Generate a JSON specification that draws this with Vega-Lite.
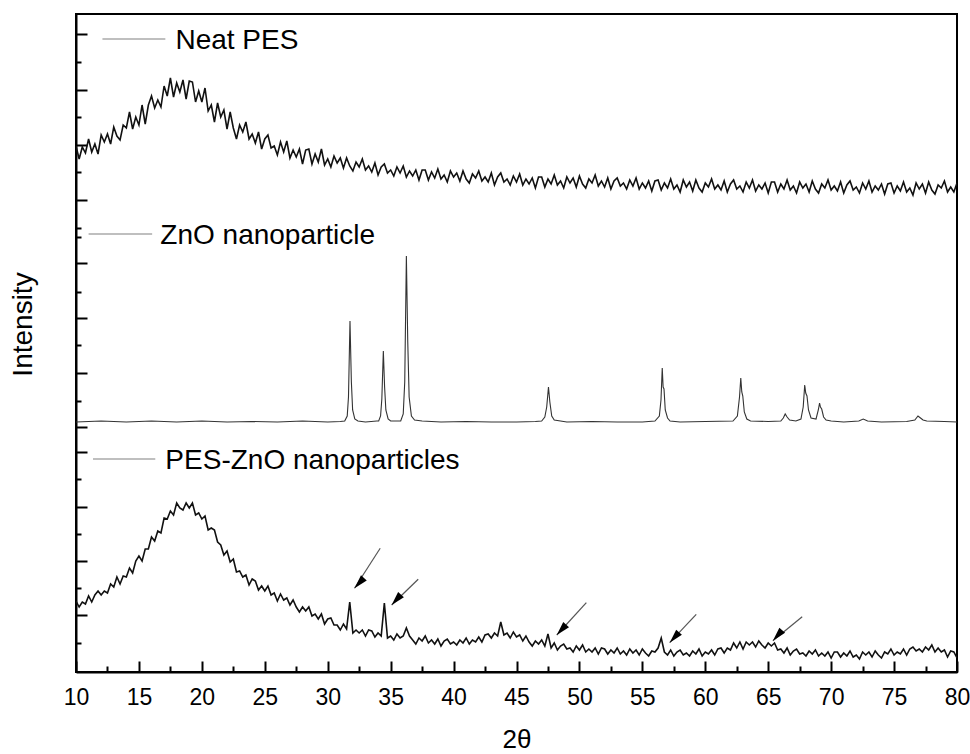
{
"$schema": "https://vega.github.io/schema/vega-lite/v6.json",
"width": 881, "height": 658,
"autosize": {"type": "none"},
"padding": {"left": 76, "top": 14, "right": 13, "bottom": 82},
"background": "white",
"config": {"view": {"stroke": "black", "strokeWidth": 2}, "font": "Liberation Sans", "axis": {"grid": false, "labelFont": "Liberation Sans", "titleFont": "Liberation Sans"}},
"datasets": {
"pes": [
{"t":10,"n":526,"p":71},{"t":10.25,"n":513,"p":65},{"t":10.5,"n":525,"p":70},{"t":10.75,"n":519,"p":68},
{"t":11,"n":533,"p":76},{"t":11.25,"n":520,"p":70},{"t":11.5,"n":528,"p":77},{"t":11.75,"n":518,"p":81},
{"t":12,"n":537,"p":77},{"t":12.25,"n":530,"p":81},{"t":12.5,"n":538,"p":79},{"t":12.75,"n":528,"p":88},
{"t":13,"n":545,"p":85},{"t":13.25,"n":536,"p":95},{"t":13.5,"n":532,"p":88},{"t":13.75,"n":547,"p":96},
{"t":14,"n":544,"p":95},{"t":14.25,"n":560,"p":104},{"t":14.5,"n":543,"p":99},{"t":14.75,"n":555,"p":111},
{"t":15,"n":547,"p":116},{"t":15.25,"n":567,"p":111},{"t":15.5,"n":548,"p":123},{"t":15.75,"n":567,"p":123},
{"t":16,"n":576,"p":135},{"t":16.25,"n":564,"p":131},{"t":16.5,"n":572,"p":141},{"t":16.75,"n":565,"p":139},
{"t":17,"n":586,"p":154},{"t":17.25,"n":576,"p":153},{"t":17.5,"n":594,"p":161},{"t":17.75,"n":575,"p":157},
{"t":18,"n":589,"p":169},{"t":18.25,"n":580,"p":164},{"t":18.5,"n":592,"p":162},{"t":18.75,"n":573,"p":169},
{"t":19,"n":591,"p":164},{"t":19.25,"n":590,"p":169},{"t":19.5,"n":570,"p":157},{"t":19.75,"n":581,"p":159},
{"t":20,"n":570,"p":153},{"t":20.25,"n":584,"p":156},{"t":20.5,"n":561,"p":142},{"t":20.75,"n":567,"p":144},
{"t":21,"n":550,"p":142},{"t":21.25,"n":569,"p":130},{"t":21.5,"n":555,"p":127},{"t":21.75,"n":562,"p":117},
{"t":22,"n":543,"p":121},{"t":22.25,"n":560,"p":110},{"t":22.5,"n":544,"p":113},{"t":22.75,"n":533,"p":100},
{"t":23,"n":547,"p":101},{"t":23.25,"n":540,"p":95},{"t":23.5,"n":550,"p":97},{"t":23.75,"n":533,"p":87},
{"t":24,"n":538,"p":93},{"t":24.25,"n":529,"p":91},{"t":24.5,"n":540,"p":82},{"t":24.75,"n":523,"p":86},
{"t":25,"n":533,"p":81},{"t":25.25,"n":537,"p":86},{"t":25.5,"n":524,"p":77},{"t":25.75,"n":526,"p":79},
{"t":26,"n":517,"p":71},{"t":26.25,"n":530,"p":78},{"t":26.5,"n":520,"p":72},{"t":26.75,"n":531,"p":74},
{"t":27,"n":514,"p":67},{"t":27.25,"n":522,"p":72},{"t":27.5,"n":515,"p":65},{"t":27.75,"n":523,"p":60},
{"t":28,"n":508,"p":65},{"t":28.25,"n":522,"p":61},{"t":28.5,"n":523,"p":65},{"t":28.75,"n":508,"p":56},
{"t":29,"n":518,"p":58},{"t":29.25,"n":510,"p":53},{"t":29.5,"n":523,"p":58},{"t":29.75,"n":507,"p":48},
{"t":30,"n":513,"p":53},{"t":30.25,"n":505,"p":54},{"t":30.5,"n":516,"p":47},{"t":30.75,"n":509,"p":47},
{"t":31,"n":514,"p":42},{"t":31.25,"n":504,"p":48},{"t":31.5,"n":514,"p":43},{"t":31.75,"n":506,"p":70},
{"t":32,"n":501,"p":39},{"t":32.25,"n":510,"p":42},{"t":32.5,"n":505,"p":39},{"t":32.75,"n":513,"p":42},
{"t":33,"n":502,"p":36},{"t":33.25,"n":506,"p":42},{"t":33.5,"n":500,"p":41},{"t":33.75,"n":509,"p":35},
{"t":34,"n":497,"p":39},{"t":34.25,"n":505,"p":36},{"t":34.5,"n":508,"p":69},{"t":34.75,"n":499,"p":34},
{"t":35,"n":502,"p":36},{"t":35.25,"n":496,"p":32},{"t":35.5,"n":505,"p":38},{"t":35.75,"n":499,"p":34},
{"t":36,"n":506,"p":36},{"t":36.25,"n":495,"p":44},{"t":36.5,"n":501,"p":36},{"t":36.75,"n":496,"p":32},
{"t":37,"n":502,"p":28},{"t":37.25,"n":492,"p":34},{"t":37.5,"n":502,"p":31},{"t":37.75,"n":502,"p":36},
{"t":38,"n":492,"p":29},{"t":38.25,"n":500,"p":32},{"t":38.5,"n":494,"p":28},{"t":38.75,"n":503,"p":33},
{"t":39,"n":493,"p":26},{"t":39.25,"n":497,"p":31},{"t":39.5,"n":490,"p":33},{"t":39.75,"n":501,"p":28},
{"t":40,"n":495,"p":30},{"t":40.25,"n":499,"p":27},{"t":40.5,"n":491,"p":32},{"t":40.75,"n":501,"p":29},
{"t":41,"n":493,"p":34},{"t":41.25,"n":489,"p":28},{"t":41.5,"n":498,"p":32},{"t":41.75,"n":494,"p":30},
{"t":42,"n":501,"p":35},{"t":42.25,"n":491,"p":30},{"t":42.5,"n":495,"p":37},{"t":42.75,"n":490,"p":38},
{"t":43,"n":499,"p":34},{"t":43.25,"n":487,"p":39},{"t":43.5,"n":495,"p":36},{"t":43.75,"n":499,"p":50},
{"t":44,"n":490,"p":37},{"t":44.25,"n":493,"p":39},{"t":44.5,"n":487,"p":34},{"t":44.75,"n":496,"p":40},
{"t":45,"n":490,"p":35},{"t":45.25,"n":498,"p":37},{"t":45.5,"n":487,"p":31},{"t":45.75,"n":493,"p":36},
{"t":46,"n":488,"p":30},{"t":46.25,"n":494,"p":26},{"t":46.5,"n":484,"p":31},{"t":46.75,"n":495,"p":28},
{"t":47,"n":495,"p":32},{"t":47.25,"n":485,"p":26},{"t":47.5,"n":493,"p":38},{"t":47.75,"n":488,"p":24},
{"t":48,"n":497,"p":29},{"t":48.25,"n":487,"p":22},{"t":48.5,"n":491,"p":26},{"t":48.75,"n":484,"p":28},
{"t":49,"n":495,"p":23},{"t":49.25,"n":489,"p":24},{"t":49.5,"n":494,"p":20},{"t":49.75,"n":485,"p":26},
{"t":50,"n":496,"p":22},{"t":50.25,"n":488,"p":27},{"t":50.5,"n":484,"p":20},{"t":50.75,"n":493,"p":23},
{"t":51,"n":489,"p":20},{"t":51.25,"n":497,"p":24},{"t":51.5,"n":486,"p":18},{"t":51.75,"n":491,"p":24},
{"t":52,"n":485,"p":23},{"t":52.25,"n":494,"p":18},{"t":52.5,"n":483,"p":22},{"t":52.75,"n":491,"p":19},
{"t":53,"n":494,"p":24},{"t":53.25,"n":486,"p":18},{"t":53.5,"n":489,"p":21},{"t":53.75,"n":483,"p":17},
{"t":54,"n":492,"p":23},{"t":54.25,"n":486,"p":19},{"t":54.5,"n":494,"p":22},{"t":54.75,"n":483,"p":17},
{"t":55,"n":489,"p":23},{"t":55.25,"n":484,"p":19},{"t":55.5,"n":491,"p":16},{"t":55.75,"n":481,"p":21},
{"t":56,"n":491,"p":20},{"t":56.25,"n":492,"p":24},{"t":56.5,"n":482,"p":34},{"t":56.75,"n":489,"p":20},
{"t":57,"n":484,"p":17},{"t":57.25,"n":493,"p":22},{"t":57.5,"n":483,"p":16},{"t":57.75,"n":487,"p":20},
{"t":58,"n":480,"p":22},{"t":58.25,"n":492,"p":17},{"t":58.5,"n":485,"p":19},{"t":58.75,"n":490,"p":16},
{"t":59,"n":481,"p":21},{"t":59.25,"n":492,"p":18},{"t":59.5,"n":484,"p":23},{"t":59.75,"n":480,"p":16},
{"t":60,"n":489,"p":20},{"t":60.25,"n":485,"p":18},{"t":60.5,"n":493,"p":22},{"t":60.75,"n":483,"p":17},
{"t":61,"n":487,"p":23},{"t":61.25,"n":482,"p":24},{"t":61.5,"n":491,"p":19},{"t":61.75,"n":480,"p":24},
{"t":62,"n":488,"p":22},{"t":62.25,"n":492,"p":29},{"t":62.5,"n":483,"p":24},{"t":62.75,"n":486,"p":30},
{"t":63,"n":480,"p":23},{"t":63.25,"n":490,"p":30},{"t":63.5,"n":484,"p":27},{"t":63.75,"n":492,"p":30},
{"t":64,"n":481,"p":25},{"t":64.25,"n":487,"p":31},{"t":64.5,"n":483,"p":27},{"t":64.75,"n":489,"p":24},
{"t":65,"n":479,"p":29},{"t":65.25,"n":490,"p":26},{"t":65.5,"n":490,"p":29},{"t":65.75,"n":480,"p":22},
{"t":66,"n":488,"p":23},{"t":66.25,"n":483,"p":19},{"t":66.5,"n":492,"p":24},{"t":66.75,"n":482,"p":17},
{"t":67,"n":486,"p":21},{"t":67.25,"n":479,"p":23},{"t":67.5,"n":490,"p":18},{"t":67.75,"n":484,"p":19},
{"t":68,"n":488,"p":16},{"t":68.25,"n":480,"p":21},{"t":68.5,"n":491,"p":18},{"t":68.75,"n":483,"p":22},
{"t":69,"n":479,"p":16},{"t":69.25,"n":488,"p":19},{"t":69.5,"n":484,"p":16},{"t":69.75,"n":492,"p":20},
{"t":70,"n":482,"p":14},{"t":70.25,"n":486,"p":20},{"t":70.5,"n":481,"p":20},{"t":70.75,"n":490,"p":15},
{"t":71,"n":479,"p":19},{"t":71.25,"n":487,"p":16},{"t":71.5,"n":491,"p":21},{"t":71.75,"n":482,"p":15},
{"t":72,"n":485,"p":17},{"t":72.25,"n":479,"p":13},{"t":72.5,"n":489,"p":20},{"t":72.75,"n":483,"p":17},
{"t":73,"n":491,"p":20},{"t":73.25,"n":480,"p":15},{"t":73.5,"n":486,"p":21},{"t":73.75,"n":482,"p":17},
{"t":74,"n":488,"p":14},{"t":74.25,"n":478,"p":20},{"t":74.5,"n":488,"p":18},{"t":74.75,"n":489,"p":23},
{"t":75,"n":479,"p":17},{"t":75.25,"n":486,"p":20},{"t":75.5,"n":481,"p":18},{"t":75.75,"n":490,"p":23},
{"t":76,"n":480,"p":17},{"t":76.25,"n":484,"p":23},{"t":76.5,"n":477,"p":25},{"t":76.75,"n":489,"p":21},
{"t":77,"n":483,"p":23},{"t":77.25,"n":488,"p":20},{"t":77.5,"n":479,"p":25},{"t":77.75,"n":490,"p":22},
{"t":78,"n":482,"p":27},{"t":78.25,"n":478,"p":20},{"t":78.5,"n":487,"p":24},{"t":78.75,"n":484,"p":20},
{"t":79,"n":491,"p":22},{"t":79.25,"n":480,"p":15},{"t":79.5,"n":485,"p":21},{"t":79.75,"n":480,"p":20},
{"t":80,"n":489,"p":14}
],
"zno": [
{"t":10,"z":250},{"t":12,"z":251},{"t":14,"z":250},{"t":16,"z":251},{"t":18,"z":250},{"t":20,"z":251},{"t":22,"z":250},{"t":24,"z":250.5},{"t":26,"z":250},{"t":28,"z":251},{"t":30,"z":250},{"t":31,"z":250.5},
{"t":31.35,"z":251},{"t":31.55,"z":256},{"t":31.65,"z":275},{"t":31.77,"z":351},{"t":31.88,"z":290},{"t":31.98,"z":262},{"t":32.15,"z":253},{"t":32.4,"z":251},
{"t":33,"z":250},{"t":33.9,"z":251},
{"t":34.05,"z":251},{"t":34.2,"z":256},{"t":34.3,"z":273},{"t":34.42,"z":321},{"t":34.52,"z":285},{"t":34.62,"z":262},{"t":34.8,"z":253},{"t":35.0,"z":251},
{"t":35.5,"z":251},
{"t":35.8,"z":251},{"t":36.0,"z":258},{"t":36.12,"z":290},{"t":36.25,"z":416},{"t":36.36,"z":330},{"t":36.47,"z":275},{"t":36.65,"z":256},{"t":36.9,"z":252},
{"t":37.5,"z":251},{"t":39,"z":250},{"t":41,"z":250.5},{"t":43,"z":250},{"t":45,"z":250},{"t":46.5,"z":250.5},{"t":47.0,"z":251},
{"t":47.25,"z":255},{"t":47.4,"z":265},{"t":47.54,"z":285},{"t":47.65,"z":270},{"t":47.8,"z":256},{"t":48.0,"z":252},
{"t":49,"z":250},{"t":51,"z":250.5},{"t":53,"z":250},{"t":55,"z":250},{"t":56.0,"z":251},
{"t":56.35,"z":256},{"t":56.48,"z":272},{"t":56.58,"z":304},{"t":56.65,"z":285},{"t":56.72,"z":283},{"t":56.82,"z":262},{"t":57.0,"z":254},{"t":57.2,"z":251},
{"t":58,"z":250},{"t":60,"z":250.5},{"t":62.2,"z":251},
{"t":62.55,"z":256},{"t":62.72,"z":275},{"t":62.82,"z":294},{"t":62.9,"z":280},{"t":62.98,"z":276},{"t":63.1,"z":260},{"t":63.3,"z":253},{"t":63.6,"z":251},
{"t":65,"z":250.5},{"t":66.0,"z":251},
{"t":66.2,"z":254},{"t":66.35,"z":258},{"t":66.5,"z":255},{"t":66.7,"z":252},{"t":67.2,"z":251},
{"t":67.6,"z":253},{"t":67.78,"z":265},{"t":67.9,"z":287},{"t":67.98,"z":279},{"t":68.08,"z":276},{"t":68.2,"z":262},{"t":68.4,"z":254},
{"t":68.8,"z":253},{"t":68.98,"z":262},{"t":69.08,"z":269},{"t":69.15,"z":265},{"t":69.25,"z":263},{"t":69.4,"z":255},{"t":69.6,"z":252},{"t":70,"z":251},
{"t":71,"z":250},{"t":72.2,"z":251},{"t":72.55,"z":253},{"t":72.9,"z":251},{"t":74,"z":250},{"t":76,"z":250.5},{"t":76.65,"z":252},{"t":76.9,"z":256},{"t":77.1,"z":254},{"t":77.3,"z":252},{"t":77.6,"z":251},{"t":79,"z":250.5},{"t":80,"z":250}
],
"leg": [
{"label":"Neat PES","x1":12.1,"x2":17.1,"y":633,"tx":17.9},
{"label":"ZnO nanoparticle","x1":11.0,"x2":16.05,"y":438,"tx":16.7},
{"label":"PES-ZnO nanoparticles","x1":11.35,"x2":16.3,"y":213,"tx":17.1}
],
"arr": [
{"x":34.17,"y":123.7,"hx":32.13,"hy":83.7},
{"x":37.19,"y":92.7,"hx":35.08,"hy":67},
{"x":50.55,"y":69.3,"hx":48.2,"hy":37},
{"x":59.28,"y":57.7,"hx":57.17,"hy":29.3},
{"x":67.7,"y":55.3,"hx":65.37,"hy":31.3}
]
},
"layer": [
{
"data": {"name": "pes"},
"mark": {"type": "line", "color": "#111111", "strokeWidth": 1.6, "clip": true},
"encoding": {
"x": {"field": "t", "type": "quantitative", "scale": {"domain": [10, 80], "nice": false, "zero": false},
"axis": {"values": [10,12.5,15,17.5,20,22.5,25,27.5,30,32.5,35,37.5,40,42.5,45,47.5,50,52.5,55,57.5,60,62.5,65,67.5,70,72.5,75,77.5,80],
"tickCount": 200,
"format": ".0f",
"labelExpr": "datum.value % 5 === 0 ? datum.label : ''",
"tickSize": {"condition": {"test": "indexof([12.5,17.5,22.5,27.5,32.5,37.5,42.5,47.5,52.5,57.5,62.5,67.5,72.5,77.5], datum.value) >= 0", "value": -6}, "value": -11},
"tickColor": "black", "tickWidth": 2, "domainColor": "black", "domainWidth": 2,
"labelFontSize": 23, "labelColor": "black", "labelPadding": 25, "labelFlush": false, "labelOverlap": false,
"title": "2θ", "titleFontSize": 26, "titleFontWeight": "normal", "titleColor": "black", "titlePadding": 12}},
"y": {"field": "n", "type": "quantitative", "scale": {"domain": [0, 658], "nice": false, "zero": false},
"axis": {"values": [29,57,84,111,138,165,193,220,245,271,299,327,354,380,409,435,444,472,500,527,555,582,610,638],
"tickCount": 200,
"labels": false,
"tickSize": {"condition": {"test": "indexof([57,111,165,220,245,299,354,409,472,527,582,638], datum.value) >= 0", "value": -11}, "value": -5},
"tickColor": "black", "tickWidth": 2, "domainColor": "black", "domainWidth": 2,
"title": "Intensity", "titleFontSize": 28, "titleFontWeight": "normal", "titleColor": "black", "titlePadding": 38, "titleY": 310}}
}
},
{
"data": {"name": "pes"},
"mark": {"type": "line", "color": "#111111", "strokeWidth": 1.6, "clip": true},
"encoding": {
"x": {"field": "t", "type": "quantitative", "scale": {"domain": [10, 80], "nice": false, "zero": false}},
"y": {"field": "p", "type": "quantitative", "scale": {"domain": [0, 658], "nice": false, "zero": false}}
}
},
{
"data": {"name": "zno"},
"mark": {"type": "line", "color": "#333333", "strokeWidth": 1.1, "clip": true},
"encoding": {
"x": {"field": "t", "type": "quantitative", "scale": {"domain": [10, 80], "nice": false, "zero": false}},
"y": {"field": "z", "type": "quantitative", "scale": {"domain": [0, 658], "nice": false, "zero": false}}
}
},
{
"data": {"name": "leg"},
"mark": {"type": "rule", "color": "#808080", "strokeWidth": 1.2},
"encoding": {
"x": {"field": "x1", "type": "quantitative", "scale": {"domain": [10, 80], "nice": false, "zero": false}},
"x2": {"field": "x2"},
"y": {"field": "y", "type": "quantitative", "scale": {"domain": [0, 658], "nice": false, "zero": false}}
}
},
{
"data": {"name": "leg"},
"mark": {"type": "text", "align": "left", "baseline": "alphabetic", "dy": 10, "fontSize": 28, "color": "black", "font": "Liberation Sans"},
"encoding": {
"x": {"field": "tx", "type": "quantitative", "scale": {"domain": [10, 80], "nice": false, "zero": false}},
"y": {"field": "y", "type": "quantitative", "scale": {"domain": [0, 658], "nice": false, "zero": false}},
"text": {"field": "label"}
}
},
{
"data": {"name": "arr"},
"mark": {"type": "rule", "color": "#555555", "strokeWidth": 1.2},
"encoding": {
"x": {"field": "x", "type": "quantitative", "scale": {"domain": [10, 80], "nice": false, "zero": false}},
"x2": {"field": "hx"},
"y": {"field": "y", "type": "quantitative", "scale": {"domain": [0, 658], "nice": false, "zero": false}},
"y2": {"field": "hy"}
}
},
{
"data": {"name": "arr"},
"mark": {"type": "point", "shape": "M0,0L0.55,2L-0.55,2Z", "angle": 222, "size": 196, "filled": true, "color": "black", "opacity": 1},
"encoding": {
"x": {"field": "hx", "type": "quantitative", "scale": {"domain": [10, 80], "nice": false, "zero": false}},
"y": {"field": "hy", "type": "quantitative", "scale": {"domain": [0, 658], "nice": false, "zero": false}}
}
}
]
}
